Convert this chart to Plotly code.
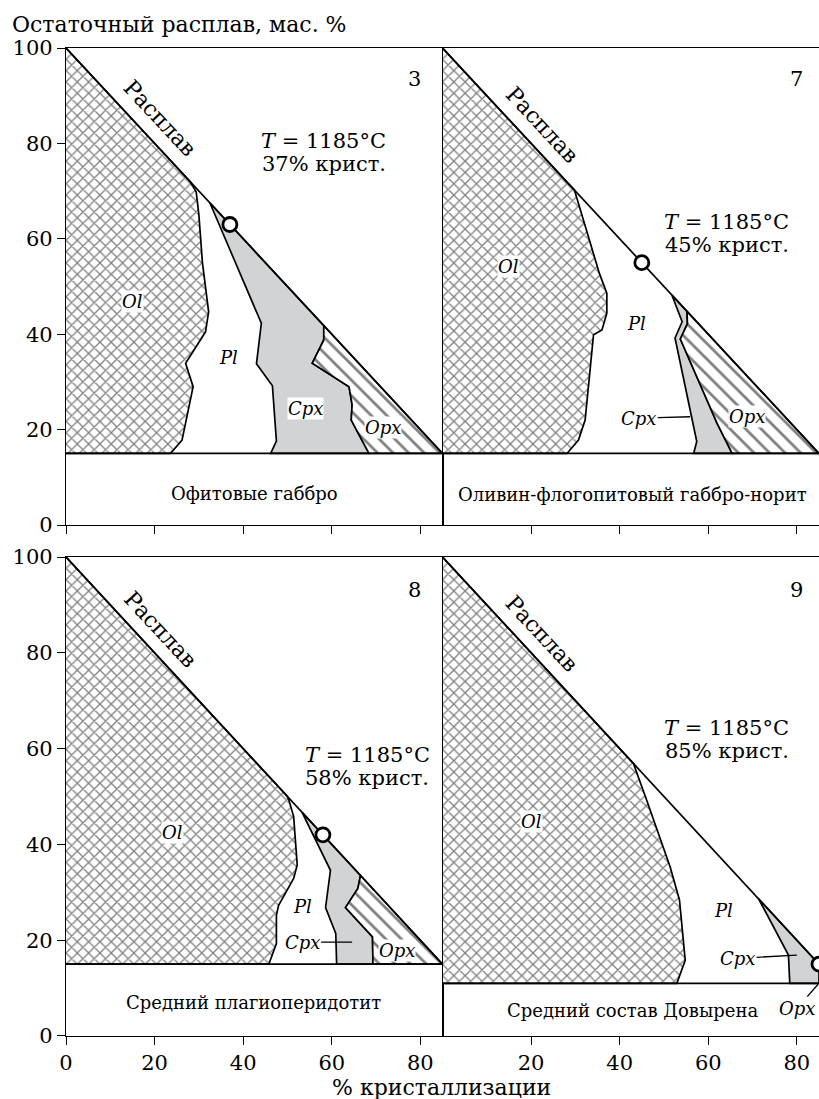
import plotly.graph_objects as go

FONT = "DejaVu Serif"

# ---------------- data ----------------
diag_x = [0, 85]          # % crystallization
diag_y = [100, 15]        # residual melt, wt %
panel_ids = ["3", "7", "8", "9"]
baseline = [15, 15, 15, 11]
cryst_pct = [37, 45, 58, 85]
melt_pct = [63, 55, 42, 15]
temperature = 1185
rock_names = ["Офитовые габбро", "Оливин-флогопитовый габбро-норит",
              "Средний плагиоперидотит", "Средний состав Довырена"]

# Panel 3: olivine / plagioclase / clinopyroxene / orthopyroxene boundaries
p3_ol_x = [28.1, 29.4, 30.0, 30.8, 32.2, 31.5, 27.0, 28.7, 26.2, 23.6]
p3_ol_y = [71.9, 69.8, 65.0, 55.0, 44.7, 40.5, 33.9, 29.0, 17.8, 15.0]
p3_pl_x = [32.5, 37.9, 44.1, 43.0, 46.6, 47.5, 46.2]
p3_pl_y = [67.5, 55.6, 42.3, 33.8, 29.2, 17.6, 15.0]
p3_cpx_x = [58.2, 58.2, 55.6, 63.9, 64.6, 64.4, 68.4]
p3_cpx_y = [41.8, 38.8, 33.9, 29.0, 25.2, 22.0, 15.0]

# Panel 7
p7_ol_x = [29.8, 35.4, 37.1, 37.1, 36.0, 34.1, 32.2, 30.7, 28.1]
p7_ol_y = [70.2, 52.8, 48.6, 44.4, 40.9, 39.9, 22.0, 17.8, 15.0]
p7_pl_x = [51.8, 54.1, 52.5, 57.4, 56.7]
p7_pl_y = [48.2, 42.6, 39.2, 17.5, 15.0]
p7_cpx_x = [55.2, 55.3, 53.7, 62.0, 65.4]
p7_cpx_y = [44.8, 42.2, 39.0, 21.3, 15.0]

# Panel 8
p8_ol_x = [49.9, 50.3, 51.4, 52.2, 51.4, 48.0, 47.5, 47.5, 45.8]
p8_ol_y = [50.1, 49.3, 45.8, 35.7, 32.9, 27.3, 25.2, 19.3, 15.0]
p8_pl_x = [53.3, 59.7, 58.6, 60.9, 61.1]
p8_pl_y = [46.7, 34.6, 26.8, 21.4, 15.0]
p8_cpx_x = [66.5, 65.9, 63.1, 69.2, 69.3]
p8_cpx_y = [33.5, 30.8, 26.8, 20.7, 15.0]

# Panel 9
p9_ol_x = [43.1, 45.8, 51.4, 53.5, 54.8, 52.9]
p9_ol_y = [56.9, 50.0, 35.3, 28.4, 15.8, 11.0]
p9_pl_x = [71.4, 78.1, 78.4]
p9_pl_y = [28.6, 16.9, 11.0]

ol_x = [p3_ol_x, p7_ol_x, p8_ol_x, p9_ol_x]
ol_y = [p3_ol_y, p7_ol_y, p8_ol_y, p9_ol_y]
pl_x = [p3_pl_x, p7_pl_x, p8_pl_x, p9_pl_x]
pl_y = [p3_pl_y, p7_pl_y, p8_pl_y, p9_pl_y]
cpx_x = [p3_cpx_x, p7_cpx_x, p8_cpx_x, None]
cpx_y = [p3_cpx_y, p7_cpx_y, p8_cpx_y, None]

# label positions (data units)
lab_T = [(58.2, 80.4), (64.2, 63.6), (68.0, 58.7), (64.2, 64.3)]
lab_num = [(78.6, 93.4), (80.0, 93.4), (78.6, 93.2), (80.0, 93.2)]
lab_melt = [(21.3, 85.3), (22.4, 83.9), (21.3, 84.8), (22.4, 84.1)]
lab_rock = [(42.5, 6.7), (42.8, 6.3), (42.4, 7.0), (42.8, 5.4)]
lab_ol = [(14.9, 46.8), (14.9, 54.2), (24.0, 42.5), (20.2, 44.7)]
lab_pl = [(36.7, 35.2), (43.9, 42.3), (53.3, 27.1), (63.5, 26.3)]
lab_cpx = [(54.1, 24.5), (44.3, 22.4), (53.3, 19.6), (66.6, 16.2)]
cpx_leader = [None, (55.9, 22.7), (64.6, 19.6), (80.0, 16.9)]
lab_opx = [(71.6, 20.5), (68.7, 22.7), (74.8, 17.9), (80.0, 5.7)]
opx_leader = [None, None, None, (84.8, 10.8)]

# ---------------- figure ----------------
fig = go.Figure()
axref = [("x", "y"), ("x2", "y2"), ("x3", "y3"), ("x4", "y4")]
LW = 1.7
GRAY = "#d2d3d5"

for i in range(4):
    xr, yr = axref[i]
    base = baseline[i]
    # olivine
    fig.add_trace(go.Scatter(
        x=[diag_x[0]] + ol_x[i] + [0], y=[diag_y[0]] + ol_y[i] + [base],
        xaxis=xr, yaxis=yr, mode="lines", fill="toself", fillcolor="white",
        fillpattern=dict(shape="x", size=8, solidity=0.3, fgcolor="black", bgcolor="white"),
        line=dict(color="black", width=LW), hoverinfo="skip", showlegend=False))
    # clinopyroxene
    if cpx_x[i] is not None:
        cx = [pl_x[i][0]] + cpx_x[i] + pl_x[i][::-1]
        cy = [pl_y[i][0]] + cpx_y[i] + pl_y[i][::-1]
    else:
        cx = [pl_x[i][0], diag_x[1], diag_x[1]] + pl_x[i][::-1]
        cy = [pl_y[i][0], diag_y[1], base] + pl_y[i][::-1]
    fig.add_trace(go.Scatter(
        x=cx, y=cy, xaxis=xr, yaxis=yr, mode="lines", fill="toself", fillcolor=GRAY,
        line=dict(color="black", width=LW), hoverinfo="skip", showlegend=False))
    # orthopyroxene
    if cpx_x[i] is not None:
        fig.add_trace(go.Scatter(
            x=[cpx_x[i][0], diag_x[1]] + cpx_x[i][::-1],
            y=[cpx_y[i][0], diag_y[1]] + cpx_y[i][::-1],
            xaxis=xr, yaxis=yr, mode="lines", fill="toself", fillcolor="white",
            fillpattern=dict(shape="\\", size=11, solidity=0.25, fgcolor="black", bgcolor="white"),
            line=dict(color="black", width=LW), hoverinfo="skip", showlegend=False))
    # melt line
    fig.add_trace(go.Scatter(x=diag_x, y=diag_y, xaxis=xr, yaxis=yr, mode="lines",
                             line=dict(color="black", width=LW), hoverinfo="skip", showlegend=False))
    # baseline
    fig.add_trace(go.Scatter(x=[0, diag_x[1]], y=[base, base], xaxis=xr, yaxis=yr, mode="lines",
                             line=dict(color="black", width=LW), hoverinfo="skip", showlegend=False))
    # current state marker
    fig.add_trace(go.Scatter(x=[cryst_pct[i]], y=[melt_pct[i]], xaxis=xr, yaxis=yr, mode="markers",
                             marker=dict(size=14, color="white", line=dict(color="black", width=2.8)),
                             hoverinfo="skip", showlegend=False))

    def ann(text, pos, size, **kw):
        fig.add_annotation(text=text, x=pos[0], y=pos[1], xref=xr, yref=yr, showarrow=False,
                           font=dict(family=FONT, size=size, color="black"), **kw)

    ann("<i>T</i> = %d°C" % temperature, (lab_T[i][0], lab_T[i][1]), 21)
    ann("%d%% крист." % cryst_pct[i], (lab_T[i][0], lab_T[i][1] - 4.8), 21)
    ann(panel_ids[i], lab_num[i], 21)
    ann("Расплав", lab_melt[i], 22, textangle=47)
    ann(rock_names[i], lab_rock[i], 18)
    ann("<i>Ol</i>", lab_ol[i], 18, bgcolor="white", borderpad=0)
    ann("<i>Pl</i>", lab_pl[i], 18)
    if cpx_leader[i] is None:
        ann("<i>Cpx</i>", lab_cpx[i], 18, bgcolor="white", borderpad=0)
    else:
        fig.add_annotation(text="<i>Cpx</i>", x=cpx_leader[i][0], y=cpx_leader[i][1],
                           ax=lab_cpx[i][0], ay=lab_cpx[i][1], axref=xr, ayref=yr,
                           xref=xr, yref=yr, showarrow=True, arrowhead=0, arrowwidth=1.3,
                           arrowcolor="black", standoff=0,
                           font=dict(family=FONT, size=18, color="black"))
    if opx_leader[i] is None:
        ann("<i>Opx</i>", lab_opx[i], 18, bgcolor="white", borderpad=0)
    else:
        fig.add_annotation(text="<i>Opx</i>", x=opx_leader[i][0], y=opx_leader[i][1],
                           ax=lab_opx[i][0], ay=lab_opx[i][1], axref=xr, ayref=yr,
                           xref=xr, yref=yr, showarrow=True, arrowhead=0, arrowwidth=1.3,
                           arrowcolor="black", standoff=0,
                           font=dict(family=FONT, size=18, color="black"))

tickfont = dict(family=FONT, size=21, color="black")
common = dict(range=[0, 85], showgrid=False, zeroline=False, showline=True, linecolor="black",
              linewidth=1.2, mirror=True, ticks="outside", ticklen=8, tickwidth=1.2,
              tickcolor="black", tickfont=tickfont, fixedrange=True)
ycommon = dict(range=[0, 100], showgrid=False, zeroline=False, showline=True, linecolor="black",
               linewidth=1.2, mirror=True, tickfont=tickfont, fixedrange=True)

xl = [0, 0.5]
xr_ = [0.5, 1.0]
yt = [0.5172, 1.0]
yb = [0.0, 0.4848]

fig.update_layout(
    width=819, height=1099,
    margin=dict(l=66, r=0, t=48, b=63),
    plot_bgcolor="white", paper_bgcolor="white",
    showlegend=False,
    xaxis=dict(domain=xl, anchor="y", tickvals=[0, 20, 40, 60, 80], showticklabels=False, **common),
    yaxis=dict(domain=yt, anchor="x", tickvals=[0, 20, 40, 60, 80, 100], ticks="outside",
               ticklen=8, tickwidth=1.2, tickcolor="black", **ycommon),
    xaxis2=dict(domain=xr_, anchor="y2", tickvals=[20, 40, 60, 80], showticklabels=False, **common),
    yaxis2=dict(domain=yt, anchor="x2", tickvals=[], showticklabels=False, **ycommon),
    xaxis3=dict(domain=xl, anchor="y3", tickvals=[0, 20, 40, 60, 80], **common),
    yaxis3=dict(domain=yb, anchor="x3", tickvals=[0, 20, 40, 60, 80, 100], ticks="outside",
                ticklen=8, tickwidth=1.2, tickcolor="black", **ycommon),
    xaxis4=dict(domain=xr_, anchor="y4", tickvals=[20, 40, 60, 80], **common),
    yaxis4=dict(domain=yb, anchor="x4", tickvals=[], showticklabels=False, **ycommon),
)

fig.add_annotation(text="Остаточный расплав, мас. %", xref="paper", yref="paper",
                   x=-0.0744, y=1.0233, xanchor="left", yanchor="middle", showarrow=False,
                   font=dict(family=FONT, size=22, color="black"))
fig.add_annotation(text="% кристаллизации", xref="paper", yref="paper",
                   x=0.4987, y=-0.0526, xanchor="center", yanchor="middle", showarrow=False,
                   font=dict(family=FONT, size=22, color="black"))

fig.write_html("out.html")
